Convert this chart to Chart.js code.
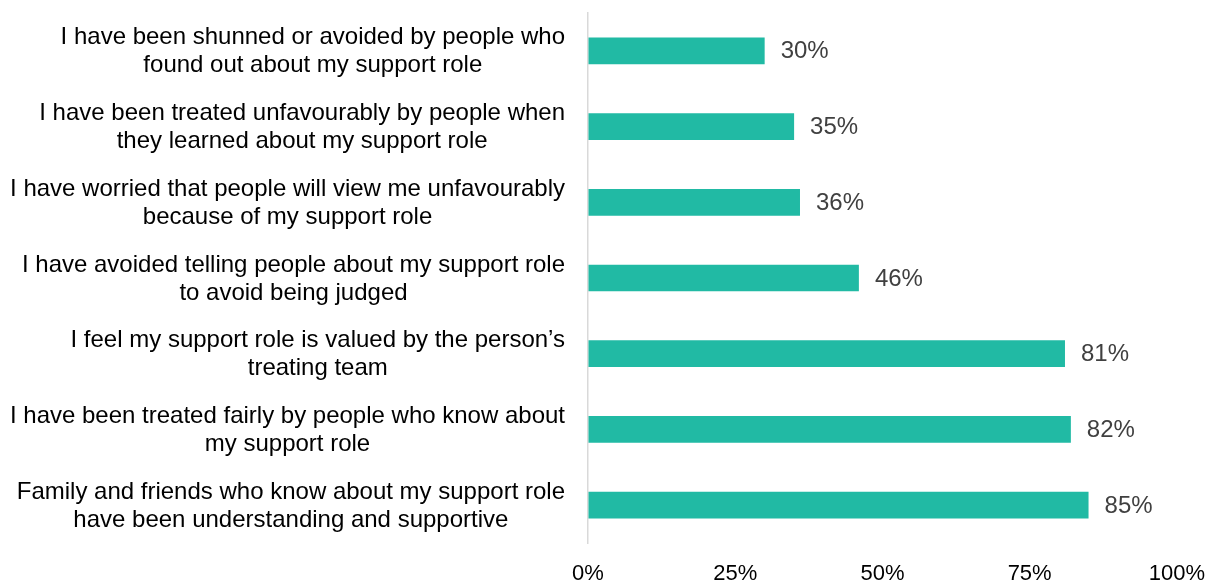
<!DOCTYPE html>
<html>
<head>
<meta charset="utf-8">
<script src="https://cdn.jsdelivr.net/npm/chart.js@4.4.1/dist/chart.umd.min.js"></script>
<style>
  html, body { margin: 0; padding: 0; background: #ffffff; }
  #wrap { width: 1210px; height: 583px; position: relative; }
</style>
</head>
<body>
<div id="wrap"><canvas id="chart"></canvas></div>
<script>
// Survey statements (each entry is the label split into its two lines)
const categories = [
  ["I have been shunned or avoided by people who", "found out about my support role"],
  ["I have been treated unfavourably by people when", "they learned about my support role"],
  ["I have worried that people will view me unfavourably", "because of my support role"],
  ["I have avoided telling people about my support role", "to avoid being judged"],
  ["I feel my support role is valued by the person\u2019s", "treating team"],
  ["I have been treated fairly by people who know about", "my support role"],
  ["Family and friends who know about my support role", "have been understanding and supportive"]
];

// Share of respondents agreeing (%)
const agreePct = [30, 35, 36, 46, 81, 82, 85];

// Axis ticks (%)
const xTicks = [0, 25, 50, 75, 100];

const FONT = '"Liberation Sans", Arial, Helvetica, sans-serif';
const BAR_COLOR = '#21BAA4';
const AXIS_LEFT = 588;

// Category labels: each two-line block is right-aligned to the axis,
// with its lines centred on one another.
const categoryLabels = {
  id: 'categoryLabels',
  afterDraw(chart) {
    const ctx = chart.ctx;
    const y = chart.scales.y;
    const right = chart.chartArea.left - 23;
    const lineH = 28;
    ctx.save();
    ctx.font = '24px ' + FONT;
    ctx.fillStyle = '#000000';
    ctx.textAlign = 'center';
    ctx.textBaseline = 'middle';
    categories.forEach((lines, i) => {
      const cy = y.getPixelForValue(i);
      const w = Math.max(...lines.map(l => ctx.measureText(l).width));
      const cx = right - w / 2;
      const top = cy - (lines.length - 1) * lineH / 2 + 1;
      lines.forEach((l, k) => ctx.fillText(l, cx, top + k * lineH));
    });
    ctx.restore();
  }
};

// Percentage shown just past the end of each bar
const valueLabels = {
  id: 'valueLabels',
  afterDatasetsDraw(chart) {
    const ctx = chart.ctx;
    const meta = chart.getDatasetMeta(0);
    ctx.save();
    ctx.font = '24px ' + FONT;
    ctx.fillStyle = '#404040';
    ctx.textAlign = 'left';
    ctx.textBaseline = 'middle';
    meta.data.forEach((bar, i) => {
      ctx.fillText(agreePct[i] + '%', bar.x + 16, bar.y + 1);
    });
    ctx.restore();
  }
};

new Chart(document.getElementById('chart'), {
  type: 'bar',
  data: {
    labels: categories,
    datasets: [{
      data: agreePct,
      backgroundColor: BAR_COLOR,
      borderWidth: 0,
      categoryPercentage: 1,
      barPercentage: 0.353
    }]
  },
  options: {
    indexAxis: 'y',
    responsive: true,
    maintainAspectRatio: false,
    animation: false,
    layout: { padding: { top: 13, right: 0, bottom: 0, left: 0 } },
    plugins: {
      legend: { display: false },
      tooltip: { enabled: false }
    },
    scales: {
      x: {
        min: 0,
        max: 100,
        afterBuildTicks(scale) {
          scale.ticks = xTicks.map(v => ({ value: v }));
        },
        afterFit(scale) { scale.height = 40; },
        grid: { display: true, color: 'rgba(0,0,0,0)', drawOnChartArea: false, drawTicks: true, tickLength: 13 },
        border: { display: false },
        ticks: {
          padding: 5,
          color: '#000000',
          font: { family: FONT, size: 22 },
          maxRotation: 0,
          callback: v => v + '%'
        }
      },
      y: {
        afterFit(scale) { scale.width = AXIS_LEFT; },
        grid: { display: false, drawTicks: false },
        border: { display: true, color: '#D9D9D9', width: 1.5 },
        ticks: { display: false }
      }
    }
  },
  plugins: [categoryLabels, valueLabels]
});
</script>
</body>
</html>
